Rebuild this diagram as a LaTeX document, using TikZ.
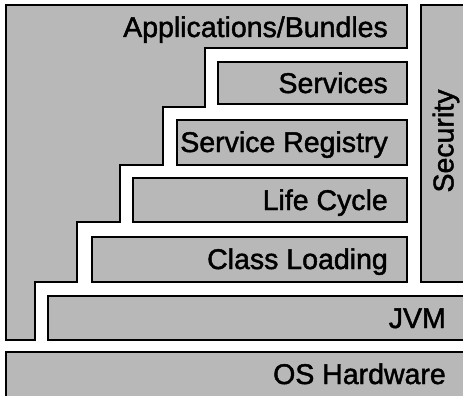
\documentclass[tikz,border=0pt]{standalone}
\usepackage{fontspec}
\setmainfont{Liberation Sans}
\newfontfamily\heavyfont{Liberation Sans}[FakeBold=1.6]
\definecolor{layergray}{HTML}{B8B8B8}
\tikzset{
  layer/.style={draw=black, fill=layergray, line width=2.6pt, line join=miter},
  lbl/.style={inner sep=0pt, font=\heavyfont\fontsize{28.5}{31}\selectfont, anchor=base east},
}
\begin{document}
\begin{tikzpicture}[x=1pt,y=-1pt]
\useasboundingbox (0,0) rectangle (463,396);
\clip (0,0) rectangle (463,396);
% Applications/Bundles staircase
\draw[layer] (6,5) -- (407,5) -- (407,48) -- (205,48) -- (205,107) -- (163,107)
  -- (163,165) -- (120,165) -- (120,222) -- (77,222) -- (77,282) -- (35,282)
  -- (35,340) -- (6,340) -- cycle;
% inner layers
\draw[layer] (218,62) rectangle (407,104);
\draw[layer] (177,120) rectangle (407,165);
\draw[layer] (133,178) rectangle (407,222);
\draw[layer] (92,237) rectangle (407,282);
% JVM, OS, Security
\draw[layer] (48,296) rectangle (480,340);
\draw[layer] (6,352) rectangle (480,410);
\draw[layer] (421,5) rectangle (480,282);
% labels
\node[lbl] (apps) at (388,37) {Applications/Bundles};
\node[lbl] (services) at (388,93) {Services};
\node[lbl] (registry) at (388,152) {Service Registry};
\node[lbl] (lifecycle) at (388,210) {Life Cycle};
\node[lbl] (classloading) at (388,269) {Class Loading};
\node[lbl] (jvm) at (446,328) {JVM};
\node[lbl] (os) at (446,384) {OS Hardware};
\node[lbl, rotate=90, anchor=center] (security) at (446,141) {Security};
\end{tikzpicture}
\end{document}
